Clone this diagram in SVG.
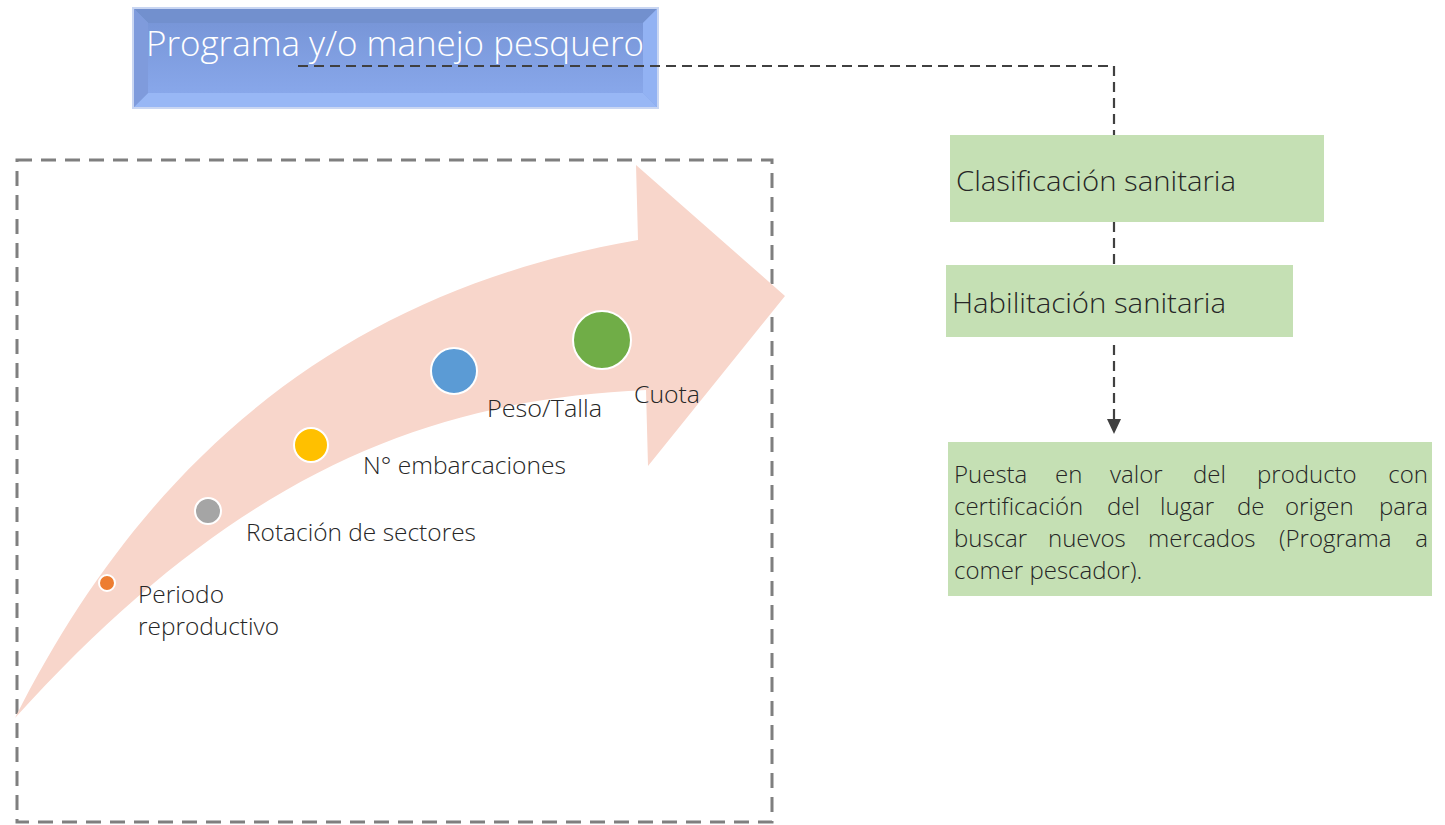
<svg xmlns="http://www.w3.org/2000/svg" width="1445" height="825" viewBox="0 0 1445 825">
<defs>
<style>
.lbl{font-family:"Open Sans","Noto Sans",sans-serif;font-size:23px;font-weight:300;fill:#262626}
.box{fill:#C5E0B4}
.btxt{font-family:"Open Sans","Noto Sans",sans-serif;font-size:27px;font-weight:300;fill:#262626}
.ptxt{font-family:"Open Sans","Noto Sans",sans-serif;font-size:24px;font-weight:300;fill:#262626}
.end{text-anchor:end}
.dash{fill:none;stroke:#404040;stroke-width:2.2;stroke-dasharray:10 6}
.dot{stroke:#fff;stroke-width:2}
</style>
<linearGradient id="face" x1="0" y1="0" x2="0" y2="1">
<stop offset="0" stop-color="#7896D8"/>
<stop offset="1" stop-color="#88A7EA"/>
</linearGradient>
</defs>
<rect x="0" y="0" width="1445" height="825" fill="#fff"/>

<g id="frame">
<rect x="17" y="160" width="755" height="662" fill="none" stroke="#7F7F7F" stroke-width="3" stroke-dasharray="15 9"/>
</g>

<g id="arrow">
<path d="M15 718 C150 450 350 290 638 240 L636 165 L785 296 L648 466 L646 390 C420 400 230 480 15 718 Z" fill="#F8D6CB"/>
</g>

<g id="title">
<rect x="133" y="8" width="525" height="100" fill="#86A4E4" stroke="#C9D6F2" stroke-width="2"/>
<polygon points="134,9 657,9 643,23 148,23" fill="#7290CE"/>
<polygon points="134,107 657,107 643,93 148,93" fill="#98B7F5"/>
<polygon points="134,9 148,23 148,93 134,107" fill="#7F9BDC"/>
<polygon points="657,9 643,23 643,93 657,107" fill="#92B2F3"/>
<rect x="148" y="23" width="495" height="70" fill="url(#face)"/>
<text x="146" y="56" font-family="'Open Sans','Noto Sans',sans-serif" font-size="34" font-weight="300" fill="#fff" textLength="498" lengthAdjust="spacingAndGlyphs">Programa y/o manejo pesquero</text>
</g>

<g id="periodo">
<circle class="dot" cx="107" cy="583" r="8" fill="#ED7D31"/>
<text class="lbl" x="138" y="603" textLength="86" lengthAdjust="spacingAndGlyphs">Periodo</text>
<text class="lbl" x="138" y="635" textLength="141" lengthAdjust="spacingAndGlyphs">reproductivo</text>
</g>
<g id="rotacion">
<circle class="dot" cx="208" cy="511" r="13" fill="#A5A5A5"/>
<text class="lbl" x="246" y="541" textLength="230" lengthAdjust="spacingAndGlyphs">Rotación de sectores</text>
</g>
<g id="embarcaciones">
<circle class="dot" cx="311" cy="445" r="17" fill="#FFC000"/>
<text class="lbl" x="363" y="474" textLength="203" lengthAdjust="spacingAndGlyphs">N° embarcaciones</text>
</g>
<g id="peso">
<circle class="dot" cx="454" cy="371" r="23" fill="#5B9BD5"/>
<text class="lbl" x="487" y="417" textLength="115" lengthAdjust="spacingAndGlyphs">Peso/Talla</text>
</g>
<g id="cuota">
<circle class="dot" cx="602" cy="340" r="29" fill="#70AD47"/>
<text class="lbl" x="634" y="403" textLength="66" lengthAdjust="spacingAndGlyphs">Cuota</text>
</g>

<g id="connectors">
<path class="dash" d="M298 66 H1114 V135"/>
<path class="dash" d="M1114 222 V265"/>
<path class="dash" d="M1114 345 V420"/>
<polygon points="1107,419 1121,419 1114,434" fill="#404040"/>
</g>

<g id="clasificacion">
<rect class="box" x="950" y="135" width="374" height="87"/>
<text class="btxt" x="956" y="191" textLength="280" lengthAdjust="spacingAndGlyphs">Clasificación sanitaria</text>
</g>
<g id="habilitacion">
<rect class="box" x="946" y="265" width="347" height="72"/>
<text class="btxt" x="952" y="313" textLength="274" lengthAdjust="spacingAndGlyphs">Habilitación sanitaria</text>
</g>
<g id="puesta">
<rect class="box" x="948" y="442" width="484" height="154"/>
<text class="ptxt" y="483" x="954">Puesta</text>
<text class="ptxt" y="483" x="1055">en</text>
<text class="ptxt" y="483" x="1110">valor</text>
<text class="ptxt" y="483" x="1193">del</text>
<text class="ptxt" y="483" x="1257">producto</text>
<text class="ptxt end" y="483" x="1428">con</text>
<text class="ptxt" y="515" x="954">certificación</text>
<text class="ptxt" y="515" x="1107">del</text>
<text class="ptxt" y="515" x="1160">lugar</text>
<text class="ptxt" y="515" x="1237">de</text>
<text class="ptxt" y="515" x="1285">origen</text>
<text class="ptxt end" y="515" x="1428">para</text>
<text class="ptxt" y="547" x="954">buscar</text>
<text class="ptxt" y="547" x="1048">nuevos</text>
<text class="ptxt" y="547" x="1148">mercados</text>
<text class="ptxt" y="547" x="1279">(Programa</text>
<text class="ptxt end" y="547" x="1428">a</text>
<text class="ptxt" y="579" x="954">comer pescador).</text>
</g>
</svg>
